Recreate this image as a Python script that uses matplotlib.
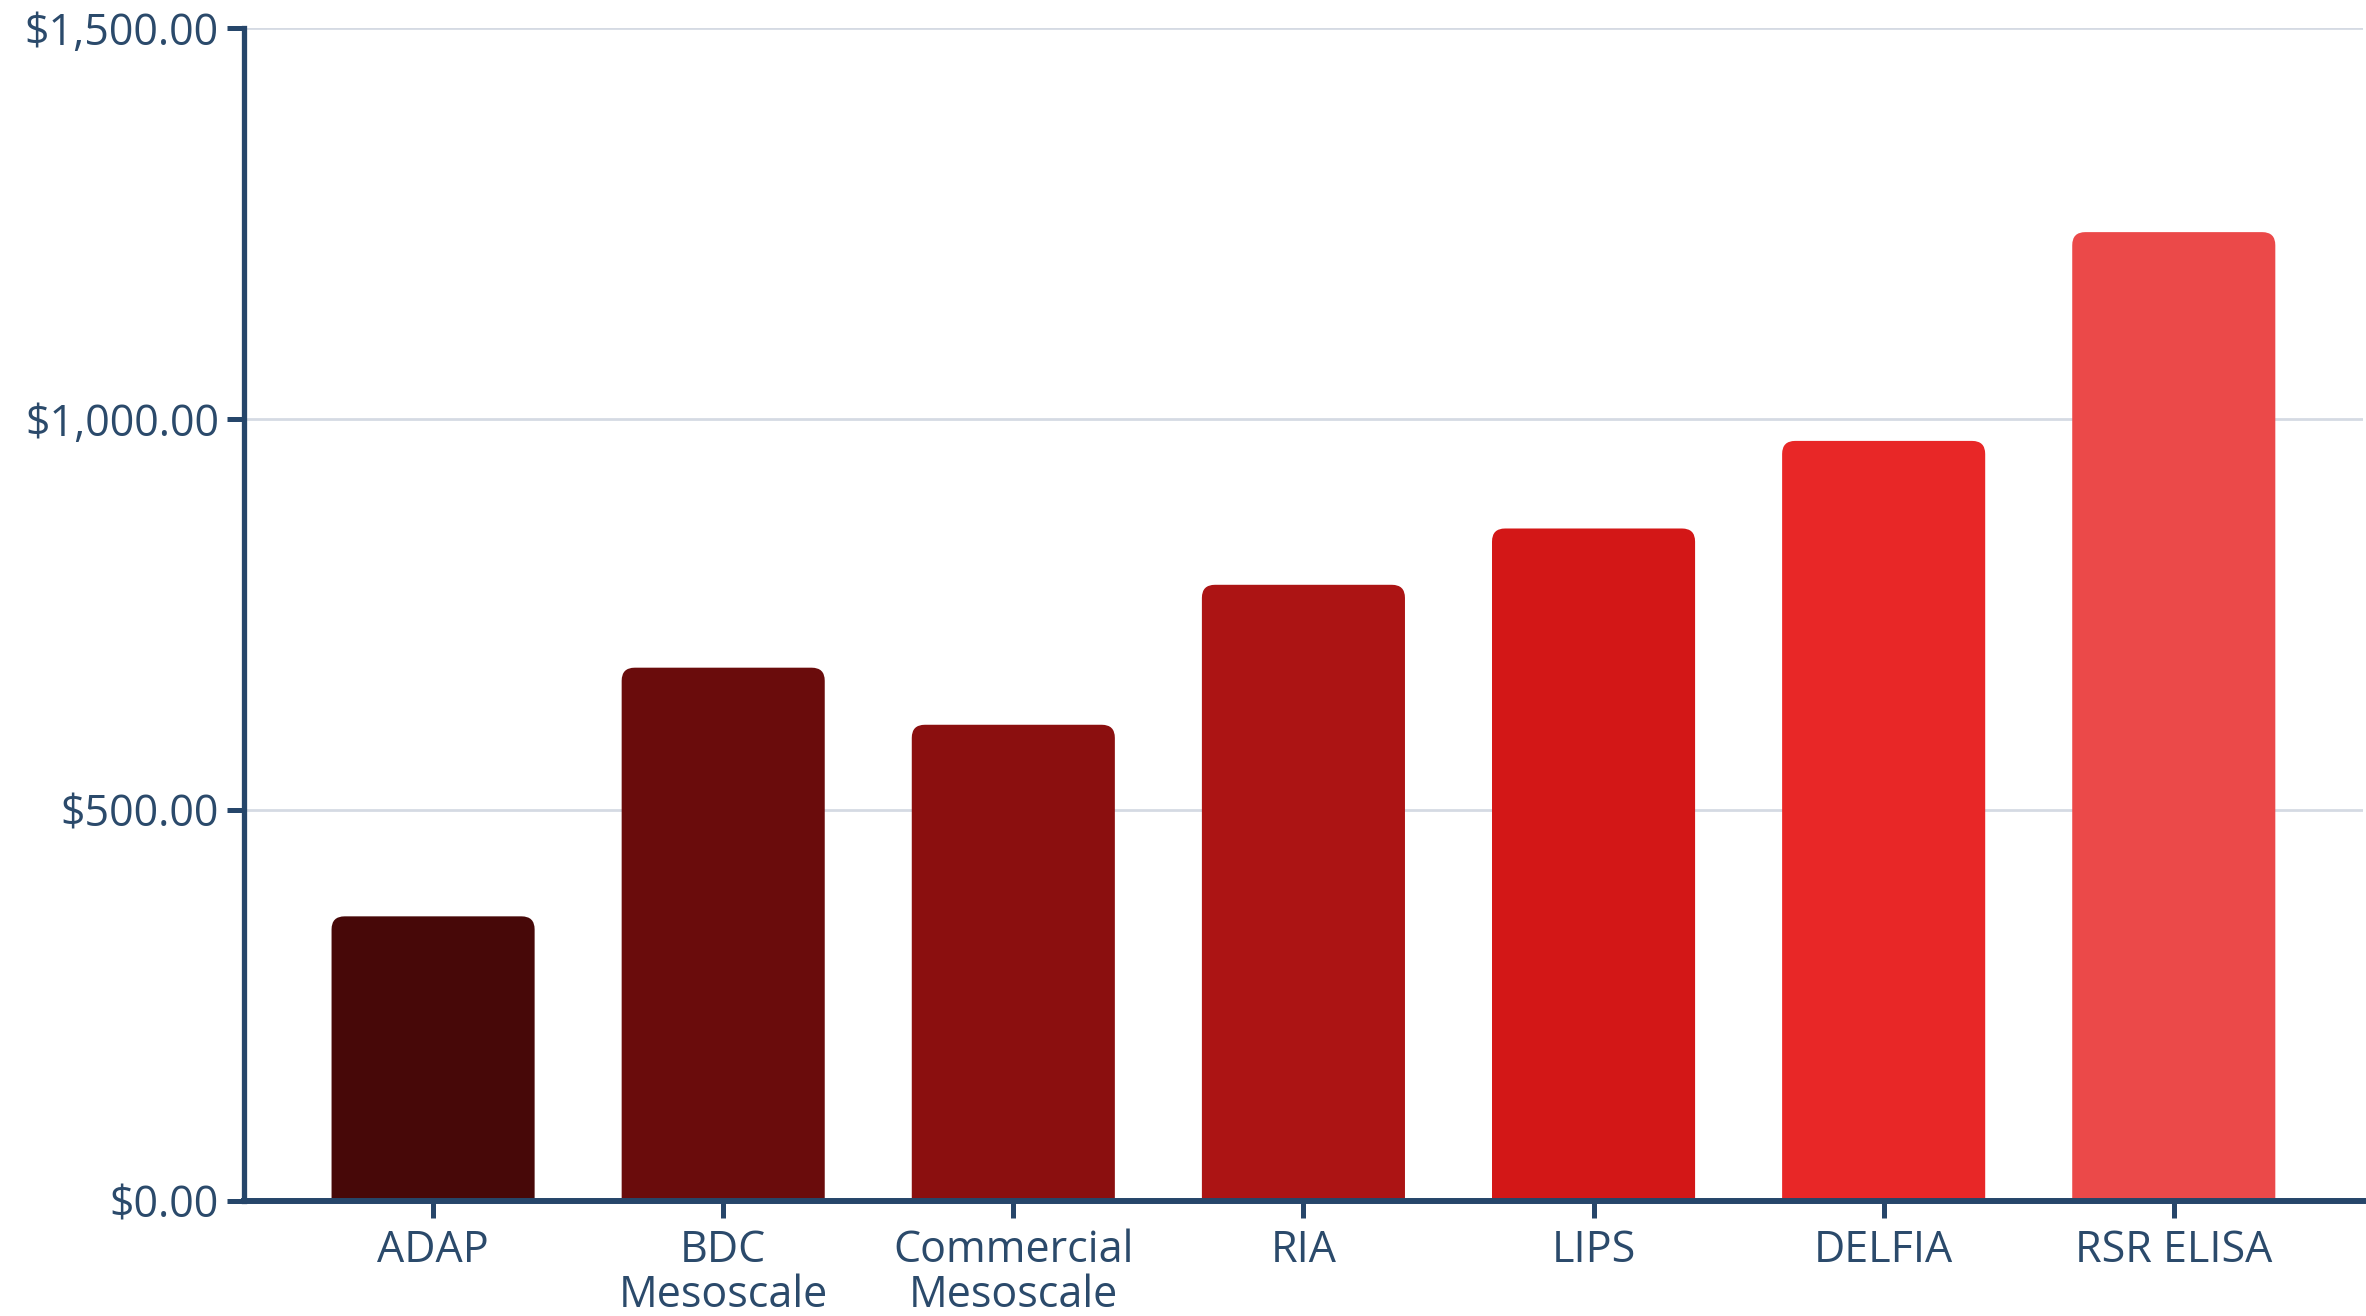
import matplotlib
matplotlib.use("Agg")
import matplotlib.pyplot as plt
from matplotlib.patches import FancyBboxPatch
from matplotlib.ticker import FuncFormatter, MultipleLocator

categories = ["ADAP", "BDC\nMesoscale", "Commercial\nMesoscale", "RIA", "LIPS", "DELFIA", "RSR ELISA"]
costs = [364, 682, 609, 788, 860, 972, 1239]
bar_colors = ["#470808", "#6a0c0c", "#8b0f0f", "#ac1414", "#d31717", "#e82727", "#eb4949"]

TEXT = "#2b4a6b"
AXIS = "#26466a"
GRID = "#d5dae3"


def main() -> None:
	plt.rcParams["font.family"] = ["Open Sans", "DejaVu Sans"]
	fig = plt.figure(figsize=(23.66, 13.16), dpi=100)
	ax = fig.add_axes([0.1031, 0.0874, 0.8956, 0.8913])

	x = list(range(len(categories)))
	ax.set_xlim(-0.652, 6.652)
	ax.set_ylim(0, 1500)

	# aspect between data units so the rounded corners stay circular
	(x0, y0), (x1, y1) = ax.transData.transform([(0, 0), (1, 1)])
	aspect = (1.0 / (y1 - y0)) / (1.0 / (x1 - x0))

	width = 0.70
	radius = 0.045
	for xi, val, col in zip(x, costs, bar_colors):
		box = FancyBboxPatch(
			(xi - width / 2, -40), width, val + 40,
			boxstyle=f"round,pad=0,rounding_size={radius}",
			mutation_aspect=aspect,
			facecolor=col, edgecolor="none", zorder=2,
		)
		ax.add_patch(box)

	ax.yaxis.set_major_locator(MultipleLocator(500))
	ax.yaxis.set_major_formatter(FuncFormatter(lambda v, p: f"${v:,.2f}"))
	ax.set_xticks(x)
	ax.set_xticklabels(categories, linespacing=1.0)

	ax.grid(axis="y", color=GRID, linewidth=2.0, zorder=0)
	ax.set_axisbelow(True)

	for side in ["top", "right"]:
		ax.spines[side].set_visible(False)
	ax.spines["left"].set_color(AXIS)
	ax.spines["left"].set_linewidth(3.8)
	ax.spines["bottom"].set_color(AXIS)
	ax.spines["bottom"].set_linewidth(4.3)
	ax.spines["bottom"].set_zorder(3)

	ax.tick_params(axis="y", length=12, width=3.6, color=AXIS, labelcolor=TEXT, labelsize=31, pad=6)
	ax.tick_params(axis="x", length=12, width=3.6, color=AXIS, labelcolor=TEXT, labelsize=31, pad=8)

	fig.savefig("out.png", dpi=100, facecolor="white")
	plt.close(fig)


if __name__ == "__main__":
	main()
